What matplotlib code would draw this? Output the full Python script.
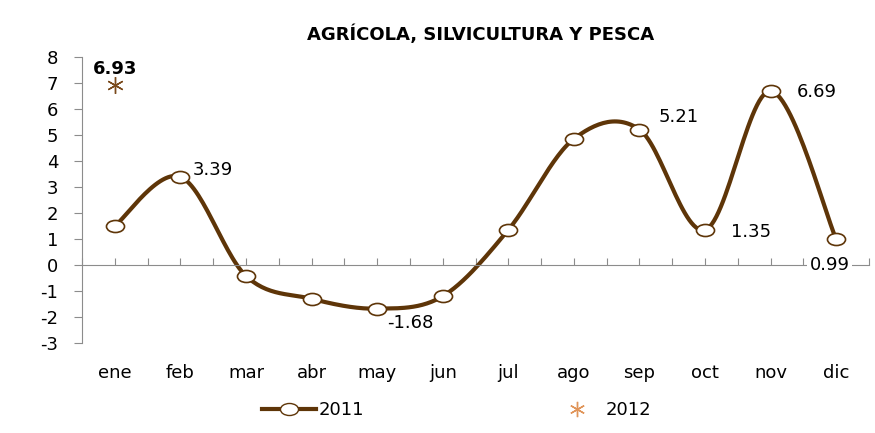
import numpy as np
import matplotlib.pyplot as plt
from matplotlib.lines import Line2D
from matplotlib.path import Path
from matplotlib.transforms import Affine2D

plt.rcParams['axes.unicode_minus'] = False

# Datos
meses = ['ene', 'feb', 'mar', 'abr', 'may', 'jun', 'jul', 'ago', 'sep', 'oct', 'nov', 'dic']
v2011 = [1.5, 3.39, -0.42, -1.3, -1.68, -1.2, 1.35, 4.85, 5.21, 1.35, 6.69, 0.99]
v2012 = [6.93]

# Etiquetas de datos: indice -> (dx, dy)
etiquetas = {1: (0.5, 0.25), 4: (0.5, -0.55), 8: (0.6, 0.5), 9: (0.7, -0.08), 10: (0.7, -0.05)}

color = '#5e3508'

# marcador eliptico (mas ancho que alto)
elipse = Path.unit_circle().transformed(Affine2D().scale(1.5, 1.0))


def catmull_rom(x, y, n=30):
    # Suavizado tipo Excel entre puntos consecutivos
    x = np.asarray(x, float)
    y = np.asarray(y, float)
    px = np.concatenate([[x[0]], x, [x[-1]]])
    py = np.concatenate([[y[0]], y, [y[-1]]])
    xs, ys = [], []
    for i in range(1, len(px) - 2):
        t = np.linspace(0, 1, n)
        p0, p1, p2, p3 = px[i - 1], px[i], px[i + 1], px[i + 2]
        q0, q1, q2, q3 = py[i - 1], py[i], py[i + 1], py[i + 2]
        c1x, c1y = p1 + (p2 - p0) / 6, q1 + (q2 - q0) / 6
        c2x, c2y = p2 - (p3 - p1) / 6, q2 - (q3 - q1) / 6
        bx = (1 - t) ** 3 * p1 + 3 * (1 - t) ** 2 * t * c1x + 3 * (1 - t) * t ** 2 * c2x + t ** 3 * p2
        by = (1 - t) ** 3 * q1 + 3 * (1 - t) ** 2 * t * c1y + 3 * (1 - t) * t ** 2 * c2y + t ** 3 * q2
        xs.append(bx)
        ys.append(by)
    return np.concatenate(xs), np.concatenate(ys)


fig = plt.figure(figsize=(8.75, 4.33), dpi=100)
ax = fig.add_axes([82 / 875, 1 - 343 / 433, (869 - 82) / 875, (343 - 57) / 433])

x = np.arange(len(meses))
sx, sy = catmull_rom(x, v2011)
ax.plot(sx, sy, color=color, lw=3, zorder=2)
ax.plot(x, v2011, marker=elipse, ls='none', ms=13, mfc='white', mec=color, mew=1.2, zorder=3)
ax.plot([0], v2012, marker=(6, 2, 0), ms=12, color='#7a4a1c', mew=1.0, ls='none', zorder=3)

for i, (dx, dy) in etiquetas.items():
    ax.text(x[i] + dx, v2011[i] + dy, f'{v2011[i]:.2f}', fontsize=13, ha='center', va='center')
ax.text(x[11] - 0.1, 0, f'{v2011[11]:.2f}', fontsize=13, ha='center', va='center',
        bbox=dict(facecolor='white', edgecolor='none', pad=2), zorder=4)
ax.text(0, v2012[0] + 0.62, f'{v2012[0]:.2f}', fontsize=13, ha='center', va='center', fontweight='bold')

ax.set_xlim(-0.5, 11.5)
ax.set_ylim(-3, 8)
ax.set_yticks(range(-3, 9))
ax.set_xticks(np.arange(-0.5, 11.6, 0.5))
ax.set_xticklabels([])
for i, m in enumerate(meses):
    ax.text(i, -3.8, m, fontsize=13, ha='center', va='top')

ax.spines['top'].set_visible(False)
ax.spines['right'].set_visible(False)
ax.spines['bottom'].set_position(('data', 0))
for s in ['left', 'bottom']:
    ax.spines[s].set_color('#8c8c8c')
ax.tick_params(axis='y', direction='out', length=6, color='#8c8c8c', labelsize=13, pad=11)
ax.tick_params(axis='x', direction='in', length=5, color='#8c8c8c')

fig.text(0.549, 0.92, 'AGRÍCOLA, SILVICULTURA Y PESCA', fontsize=13, fontweight='bold',
         ha='center', va='center')

h1 = Line2D([], [], color=color, lw=3, marker=elipse, ms=13, mfc='white', mec=color)
h2 = Line2D([], [], color='#e0955a', ls='none', marker=(6, 2, 0), ms=11, mew=1.0)
fig.legend([h1, h2], ['2011', '2012'], loc='center', bbox_to_anchor=(0.522, 0.052), ncol=2,
           frameon=False, fontsize=13, columnspacing=10.3, handlelength=3, handletextpad=0.1)

plt.savefig('out.png')
